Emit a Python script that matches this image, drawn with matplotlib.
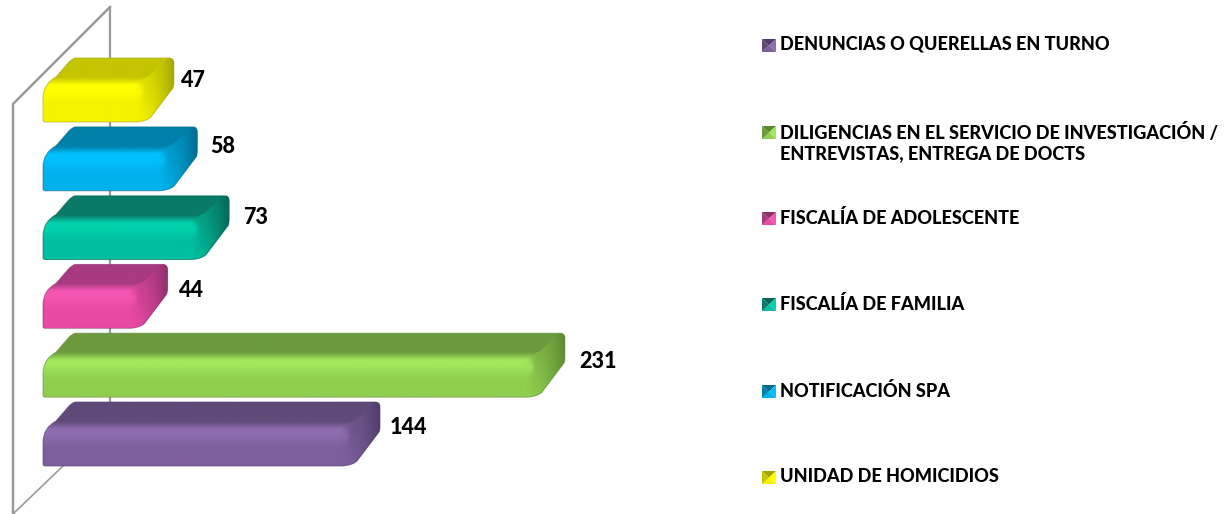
import numpy as np
import matplotlib
matplotlib.use('Agg')
import matplotlib.pyplot as plt
from matplotlib.path import Path
from matplotlib.patches import PathPatch, Polygon, Ellipse
from matplotlib.colors import to_rgb

categories = ['DENUNCIAS O QUERELLAS EN TURNO',
              'DILIGENCIAS EN EL SERVICIO DE INVESTIGACIÓN /\nENTREVISTAS, ENTREGA DE DOCTS',
              'FISCALÍA DE ADOLESCENTE',
              'FISCALÍA DE FAMILIA',
              'NOTIFICACIÓN SPA',
              'UNIDAD DE HOMICIDIOS']
values = [144, 231, 44, 73, 58, 47]

# top face, highlight, front bottom, side shadow
colors = [('#5f4a78', '#8e6cae', '#7e5f9e', '#4f3c68'),
          ('#6c9a3c', '#a2e85c', '#90ce4e', '#5c8832'),
          ('#a83a80', '#f455b0', '#e84aa4', '#8c2f6a'),
          ('#0a7a68', '#00d2ae', '#00bfa0', '#066555'),
          ('#0080aa', '#00c0ff', '#00b2ec', '#006a8e'),
          ('#c4c400', '#ffff00', '#f4f400', '#a4a400')]

label_nudge = [(9, 26), (13, 28), (10, 26), (13, 22), (12, 20), (6, 22)]
legend_y = [44, 131, 217, 303, 390, 476]

# scale of the picture
W, H = 1229, 514
X0 = 43
PX_X = 2.125
PX_Y = 68.8
BOTTOM = 466
DX = 32

plt.rcParams['font.family'] = ['Lato', 'DejaVu Sans']
fig = plt.figure(figsize=(W / 100, H / 100), dpi=100)
ax = fig.add_axes([0, 0, 1, 1])
ax.axis('off')
xlim = (-X0 / PX_X, (W - X0) / PX_X)
ylim = (-(H - BOTTOM) / PX_Y, BOTTOM / PX_Y)


def xd(px):
    return (px - X0) / PX_X


def yd(px):
    return (BOTTOM - px) / PX_Y


def grad_v(stops):
    ys = np.linspace(0, 1, 128)
    pos = [s[0] for s in stops]
    cols = np.array([to_rgb(s[1]) for s in stops])
    return np.stack([np.interp(ys, pos, cols[:, k]) for k in range(3)], axis=1)[:, None, :]


# walls
ax.plot([xd(110), xd(110)], [yd(7), yd(410)], color='#9a9a9a', lw=1.6, zorder=1, solid_capstyle='butt')
ax.plot([xd(110), xd(13), xd(13)], [yd(7), yd(104), yd(514)], color='#9a9a9a', lw=1.8, zorder=1)
ax.plot([xd(13), xd(64)], [yd(514), yd(465)], color='#9a9a9a', lw=1.2, zorder=1)

M, L, C, Z = Path.MOVETO, Path.LINETO, Path.CURVE3, Path.CLOSEPOLY

for i, (v, cat) in enumerate(zip(values, categories)):
    top, hi, low, dark = colors[i]
    front = v * PX_X

    # offsets in pixels -> data units
    def P(dx, dy):
        return (dx / PX_X, i + dy / PX_Y)

    sil = [(P(2, 0), M), (P(front - 6, 0), L), (P(front + 4, 1), C), (P(front + 8, 5), C),
           (P(front + DX - 2, 34), L), (P(front + DX - 1, 36), C), (P(front + DX - 1, 40), C),
           (P(front + DX - 1, 59), L), (P(front + DX - 1, 64), C), (P(front + DX - 6, 64), C),
           (P(DX, 64), L), (P(DX - 3, 63), C), (P(DX - 6, 60), C), (P(13, 45), L),
           (P(0, 38), C), (P(0, 24), C), (P(0, 2), L), (P(0, 0), C), (P(2, 0), C), (P(2, 0), Z)]
    verts, codes = zip(*sil)
    sil_patch = PathPatch(Path(verts, codes), fc='none', ec='none', transform=ax.transData)
    ax.add_patch(sil_patch)
    im = ax.imshow(grad_v([(0, top), (0.30, top), (0.42, hi), (0.50, hi), (0.72, low), (1, low)]),
                   aspect='auto', extent=(0, (front + DX) / PX_X, i, i + 64 / PX_Y), origin='upper',
                   interpolation='bilinear', zorder=2 + i * 0.1)
    im.set_clip_path(sil_patch)

    # right side of the bar, fades in from the front face
    side = [(P(front - 8, 0), M), (P(front + 4, 1), C), (P(front + 8, 5), C),
            (P(front + DX - 2, 34), L), (P(front + DX - 1, 36), C), (P(front + DX - 1, 40), C),
            (P(front + DX - 1, 59), L), (P(front + DX - 1, 64), C), (P(front + DX - 6, 64), C),
            (P(front + 6, 46), L), (P(front - 8, 42), C), (P(front - 8, 28), C), (P(front - 8, 0), Z)]
    verts, codes = zip(*side)
    side_patch = PathPatch(Path(verts, codes), fc='none', ec='none', transform=ax.transData)
    ax.add_patch(side_patch)
    g = np.linspace(0, 1, 64)[None, :, None]
    fade = np.linspace(0, 1, 64)[:, None, None]
    c_top = np.array(to_rgb(top))[None, None, :]
    c_low = np.array(to_rgb(low))[None, None, :]
    c_dark = np.array(to_rgb(dark))[None, None, :]
    start = c_top * (1 - fade) * 0.6 + c_low * (0.4 + 0.6 * fade)
    rgb = start * (1 - g ** 2) + c_dark * g ** 2
    alpha = np.clip(g * 4, 0, 1) * np.ones((64, 64, 1))
    im2 = ax.imshow(np.concatenate([rgb, alpha], axis=2), aspect='auto', origin='upper',
                    extent=((front - 8) / PX_X, (front + DX) / PX_X, i, i + 64 / PX_Y),
                    interpolation='bilinear', zorder=2.05 + i * 0.1)
    im2.set_clip_path(side_patch)

    # small shine on the corner
    for size, a in [(10, 0.2), (7, 0.3), (4, 0.45)]:
        ax.add_patch(Ellipse(P(front - 4, 30), size / PX_X, size * 1.3 / PX_Y, fc=hi, ec='none',
                             alpha=a, zorder=2.06 + i * 0.1))

    # outline
    ax.add_patch(PathPatch(Path([s[0] for s in sil], [s[1] for s in sil]), fc='none',
                           ec=dark, lw=0.7, alpha=0.6, zorder=2.08 + i * 0.1))

    nx, ny = label_nudge[i]
    ax.annotate(str(v), (v + (DX + nx) / PX_X, i + (64 - ny) / PX_Y), va='center', ha='left',
                fontsize=15.5, fontweight='black', color='black', zorder=10)

    # legend entry
    ly = legend_y[i]
    lx0, lx1 = xd(762), xd(776)
    yt, yb = yd(ly - 5), yd(ly + 8)
    xm, ym = (lx0 + lx1) / 2, (yt + yb) / 2
    corners = [(lx0, yt), (lx1, yt), (lx1, yb), (lx0, yb)]
    for k in range(4):
        ax.add_patch(Polygon([corners[k], corners[(k + 1) % 4], (xm, ym)], closed=True,
                             fc=[dark, hi, low, top][k], ec='none', zorder=5))
    ax.text(xd(780), yd(ly - 8), cat, va='top', ha='left', fontsize=13.1, fontweight='black',
            color='black', linespacing=1.22)

ax.set_xlim(xlim)
ax.set_ylim(ylim)
fig.savefig('out.png', dpi=100)
